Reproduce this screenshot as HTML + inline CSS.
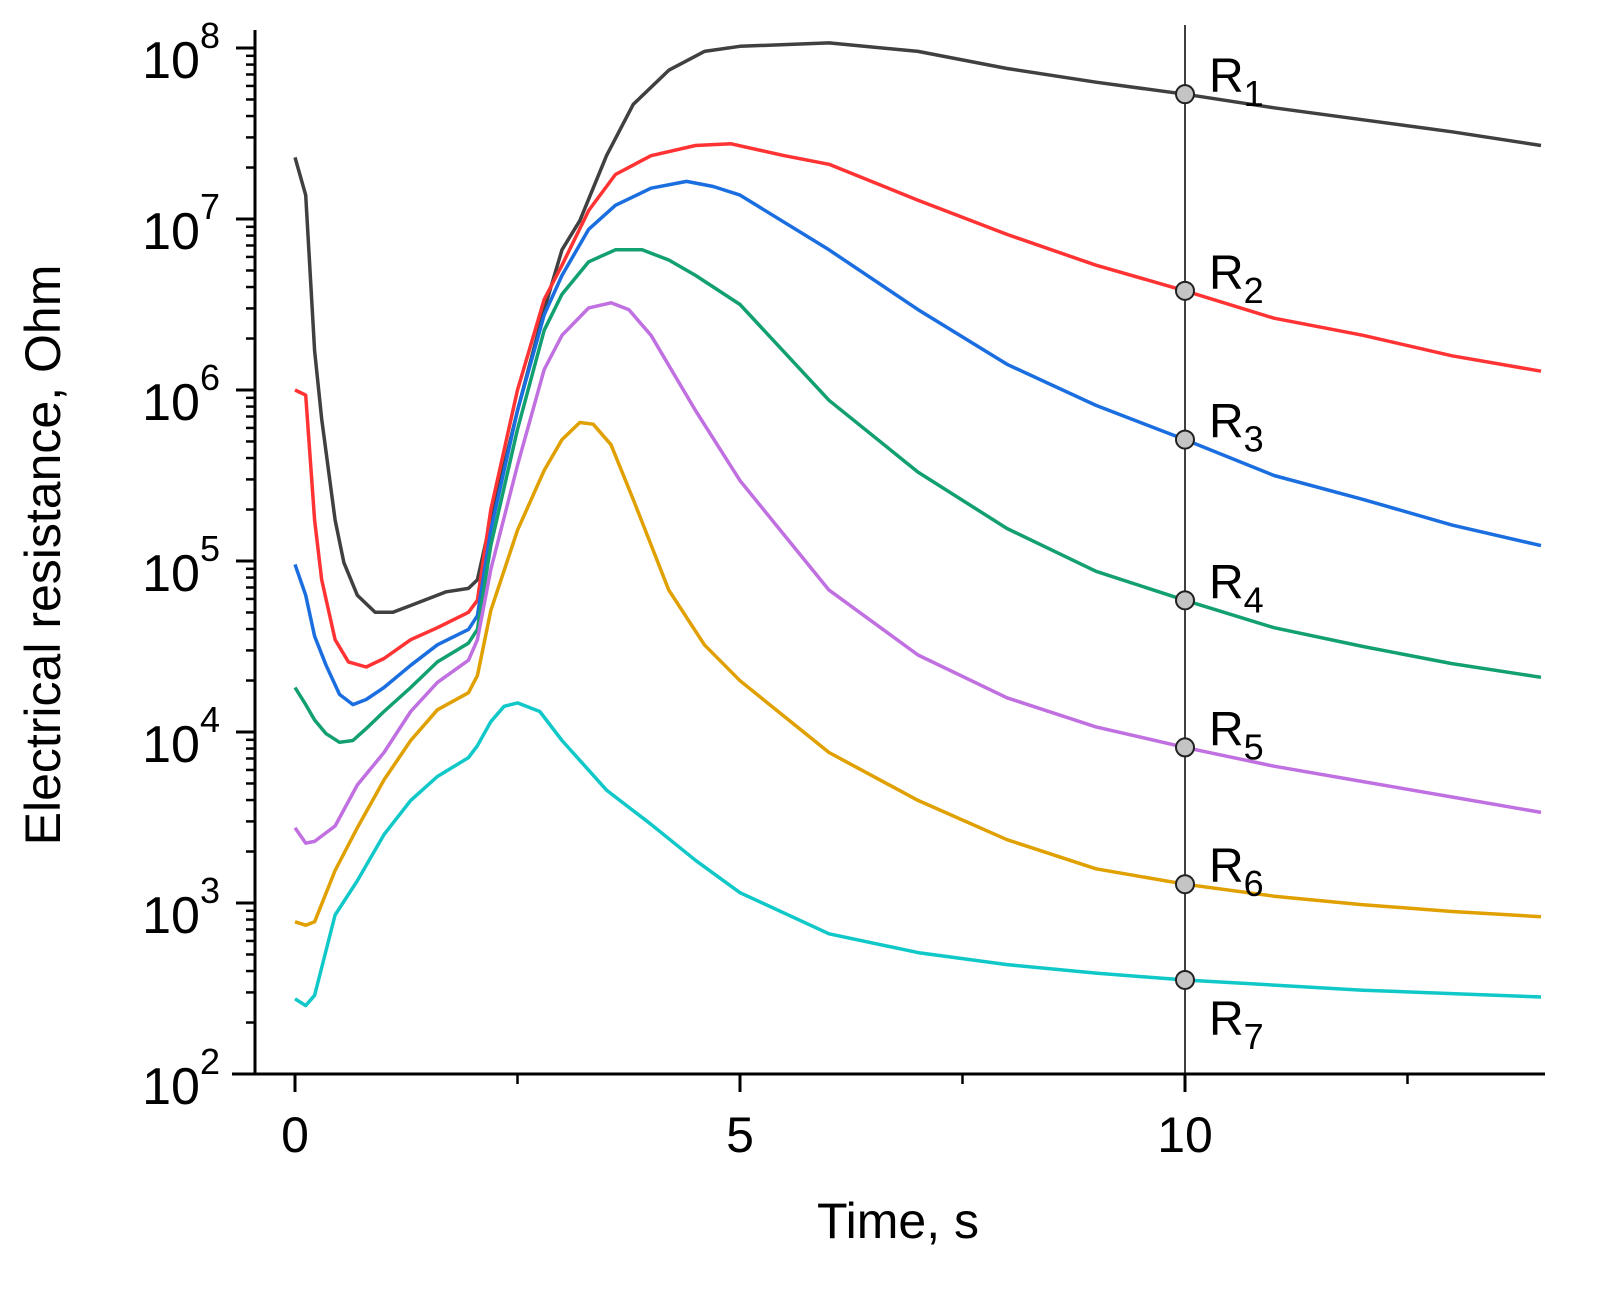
<!DOCTYPE html>
<html><head><meta charset="utf-8"><style>
body{margin:0;background:#fff}
svg text{font-family:"Liberation Sans",Arial,sans-serif;fill:#000}
</style></head><body>
<svg id="chart" width="1603" height="1293" xmlns="http://www.w3.org/2000/svg">
<g id="g"></g>
</svg>
<script>
const times=[0,0.12,0.22,0.3,0.45,0.55,0.7,0.9,1.1,1.3,1.5,1.7,1.95,2.05,2.2,2.5,2.8,3.0,3.2,3.5,3.8,4.2,4.6,5.0,6.0,7.0,8.0,9.0,10,11,12,13,14];
const r1=[7.36,7.14,6.23,5.83,5.24,4.99,4.80,4.70,4.70,4.74,4.78,4.82,4.84,4.89,5.24,5.88,6.47,6.82,6.99,7.37,7.67,7.87,7.98,8.01,8.03,7.98,7.88,7.80,7.73,7.65,7.58,7.51,7.43];
const t2=[0,0.12,0.22,0.3,0.45,0.6,0.8,1.0,1.3,1.6,1.95,2.05,2.2,2.5,2.8,3.0,3.3,3.6,4.0,4.5,4.9,5.5,6,7,8,9,10,11,12,13,14];
const r2=[6.0,5.97,5.24,4.89,4.54,4.41,4.38,4.43,4.54,4.61,4.70,4.77,5.30,6.0,6.53,6.73,7.05,7.26,7.37,7.43,7.44,7.37,7.32,7.11,6.91,6.73,6.58,6.42,6.32,6.20,6.11];
const t3=[0,0.12,0.22,0.35,0.5,0.65,0.8,1.0,1.3,1.6,1.95,2.05,2.2,2.5,2.8,3.0,3.3,3.6,4.0,4.4,4.7,5,6,7,8,9,10,11,12,13,14];
const r3=[4.98,4.80,4.56,4.39,4.22,4.16,4.19,4.26,4.39,4.51,4.60,4.68,5.18,5.88,6.44,6.67,6.94,7.08,7.18,7.22,7.19,7.14,6.82,6.47,6.15,5.91,5.71,5.50,5.36,5.21,5.09];
const t4=[0,0.12,0.22,0.35,0.5,0.65,0.8,1.0,1.3,1.6,1.95,2.05,2.2,2.5,2.8,3.0,3.3,3.6,3.9,4.2,4.5,5,6,7,8,9,10,11,12,13,14];
const r4=[4.26,4.16,4.07,3.99,3.94,3.95,4.02,4.12,4.26,4.41,4.52,4.60,5.09,5.77,6.35,6.56,6.75,6.82,6.82,6.76,6.67,6.50,5.94,5.52,5.19,4.94,4.77,4.61,4.50,4.40,4.32];
const t5=[0,0.12,0.22,0.45,0.7,1.0,1.3,1.6,1.95,2.05,2.2,2.5,2.8,3.0,3.3,3.55,3.75,4.0,4.5,5,6,7,8,9,10,11,12,13,14];
const r5=[3.44,3.35,3.36,3.45,3.69,3.88,4.12,4.29,4.42,4.54,4.95,5.56,6.12,6.32,6.48,6.51,6.47,6.32,5.88,5.47,4.83,4.45,4.20,4.03,3.91,3.80,3.71,3.62,3.53];
const t6=[0,0.12,0.22,0.45,0.7,1.0,1.3,1.6,1.95,2.05,2.2,2.5,2.8,3.0,3.2,3.35,3.55,3.8,4.2,4.6,5,6,7,8,9,10,11,12,13,14];
const r6=[2.89,2.87,2.89,3.19,3.44,3.72,3.95,4.13,4.23,4.33,4.71,5.18,5.53,5.71,5.81,5.80,5.68,5.36,4.83,4.51,4.30,3.88,3.60,3.37,3.20,3.11,3.04,2.99,2.95,2.92];
const t7=[0,0.12,0.22,0.45,0.7,1.0,1.3,1.6,1.95,2.05,2.2,2.35,2.5,2.75,3.0,3.5,4.0,4.5,5,6,7,8,9,10,11,12,13,14];
const r7=[2.44,2.40,2.46,2.93,3.13,3.40,3.60,3.74,3.85,3.92,4.06,4.15,4.17,4.12,3.95,3.66,3.46,3.25,3.06,2.82,2.71,2.64,2.59,2.55,2.52,2.49,2.47,2.45];
const markerLogs=[7.73,6.58,5.71,4.77,3.91,3.11,2.55];
const seriesNames=['R1','R2','R3','R4','R5','R6','R7'];
const xTicks=[0,5,10];
const yTicks=[2,3,4,5,6,7,8];
const colors=['#404040','#ff3333','#1a6ee0','#13a070','#c070e0','#e0a000','#10c8c8'];
const X=t=>295+t*89;
const Y=l=>1074-(l-2)*171;
const NS='http://www.w3.org/2000/svg';
const g=document.getElementById('g');
function mk(tag,attrs){const e=document.createElementNS(NS,tag);for(const k in attrs)e.setAttribute(k,attrs[k]);g.appendChild(e);return e;}
let ax=mk('line',{x1:255,y1:30,x2:255,y2:1075,stroke:'#000','stroke-width':3});


ax=mk('line',{x1:232,y1:1074,x2:1545,y2:1074,stroke:'#000','stroke-width':3});


yTicks.forEach(d=>{
  const y=Y(d);
  mk('line',{x1:236,y1:y,x2:255,y2:y,stroke:'#000','stroke-width':3});
  if(d<8)for(let m=2;m<=9;m++){const yy=Y(d+Math.log10(m));mk('line',{x1:246,y1:yy,x2:255,y2:yy,stroke:'#000','stroke-width':2.5});}
  const t=mk('text',{x:220,y:y+30,'text-anchor':'end','font-size':52});
  
  
  t.innerHTML='10<tspan dy="-30" font-size="36">'+d+'</tspan>';
});
xTicks.forEach(v=>{
  mk('line',{x1:X(v),y1:1074,x2:X(v),y2:1092,stroke:'#000','stroke-width':3});
  mk('line',{x1:X(v+2.5),y1:1074,x2:X(v+2.5),y2:1084,stroke:'#000','stroke-width':2.5});
  const t=mk('text',{x:X(v),y:1152,'text-anchor':'middle','font-size':50});
  
  
  t.textContent=v;
});
let tt=mk('text',{x:898,y:1238,'text-anchor':'middle','font-size':50});


tt.textContent='Time, s';
tt=mk('text',{x:0,y:0,'text-anchor':'middle','font-size':50,transform:'translate(60,555) rotate(-90)'});


tt.textContent='Electrical resistance, Ohm';
const all=[[times,r1],[t2,r2],[t3,r3],[t4,r4],[t5,r5],[t6,r6],[t7,r7]];
all.forEach((s,i)=>{
  const d=s[0].map((t,j)=>(j?'L':'M')+X(t).toFixed(1)+','+Y(s[1][j]).toFixed(1)).join(' ');
  const p=mk('path',{d:d,fill:'none',stroke:colors[i],'stroke-width':3.5,'stroke-linejoin':'round'});
  
  
});
const vl=mk('line',{x1:X(10),y1:25,x2:X(10),y2:1074,stroke:'#000','stroke-width':1.5});


markerLogs.forEach((l,i)=>{
  const c=mk('circle',{cx:X(10),cy:Y(l),r:9,fill:'#c4c4c4',stroke:'#222','stroke-width':2});
  
  
  const ly=i==6?Y(l)+55:Y(l)-2;
  const t=mk('text',{x:X(10)+24,y:ly,'font-size':48});
  
  
  t.innerHTML='R<tspan dy="14" font-size="36">'+(i+1)+'</tspan>';
});
</script>
</body></html>
